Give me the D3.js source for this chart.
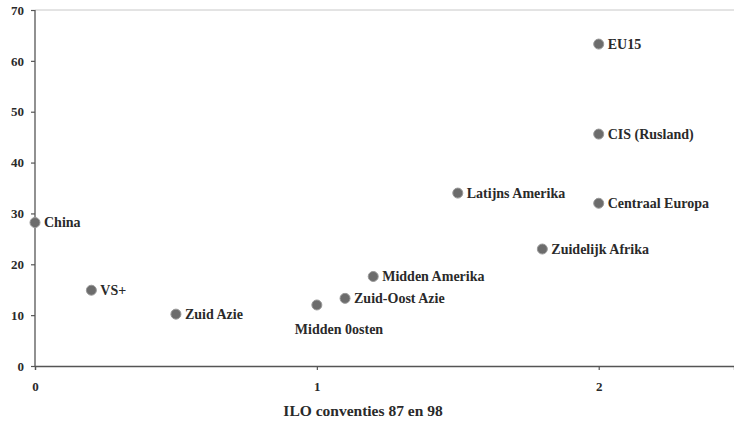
<!DOCTYPE html>
<html>
<head>
<meta charset="utf-8">
<script src="https://cdn.jsdelivr.net/npm/d3@7"></script>
<style>
body { margin: 0; background: #fff; }
text { font-family: "Liberation Serif", "Times New Roman", serif; font-weight: bold; fill: #2a2a2a; }
</style>
</head>
<body>
<script>
const w = 734;
const h = 424;

// regio's en waarden
const regions = ["China", "VS+", "Zuid Azie", "Midden 0osten", "Zuid-Oost Azie", "Midden Amerika",
	"Latijns Amerika", "Zuidelijk Afrika", "Centraal Europa", "CIS (Rusland)", "EU15"];
const iloValues = [0, 0.2, 0.5, 1, 1.1, 1.2, 1.5, 1.8, 2, 2, 2];
const yValues = [28.2, 14.9, 10.2, 12, 13.3, 17.6, 34, 23, 32, 45.6, 63.3];
const xTicks = [0, 1, 2];
const yTicks = [0, 10, 20, 30, 40, 50, 60, 70];

const dataset = regions.map((r, i) => ({name: r, x: iloValues[i], y: yValues[i]}));

const xScale = d3.scaleLinear()
	.domain([0, 2.48])
	.range([35, 734]);

const yScale = d3.scaleLinear()
	.domain([0, 70])
	.range([366, 10]);

const svg = d3.select("body")
	.append("svg")
	.attr("width", w)
	.attr("height", h);

// bovenste lijn bij 70
svg.append("line")
	.attr("x1", xScale(0))
	.attr("x2", xScale(2.48))
	.attr("y1", yScale(70))
	.attr("y2", yScale(70))
	.attr("stroke", "#c8c8c8")
	.attr("stroke-width", 1);

const xAxis = d3.axisBottom(xScale).tickValues(xTicks).tickSize(4).tickPadding(12).tickFormat(d3.format("d"));
const yAxis = d3.axisLeft(yScale).tickValues(yTicks).tickSize(4).tickPadding(7);

const gx = svg.append("g")
	.attr("transform", "translate(0," + yScale(0) + ")")
	.call(xAxis);

const gy = svg.append("g")
	.attr("transform", "translate(" + xScale(0) + ",0)")
	.call(yAxis);

[gx, gy].forEach((g) => {
	g.select(".domain").attr("stroke", "#555").attr("stroke-width", 1.3);
	g.selectAll(".tick line").attr("stroke", "#555").attr("stroke-width", 1.2);
	g.selectAll(".tick text").attr("font-size", 13).attr("font-family", "Liberation Serif").attr("font-weight", "bold").attr("fill", "#2a2a2a");
});
gy.select(".domain").attr("d", "M0," + yScale(70) + "V" + yScale(0));

svg.selectAll("circle")
	.data(dataset)
	.enter()
	.append("circle")
	.attr("cx", (d) => xScale(d.x))
	.attr("cy", (d) => yScale(d.y))
	.attr("r", 5)
	.attr("fill", "#6c6c6c")
	.attr("stroke", "#999")
	.attr("stroke-width", 1);

svg.selectAll(".label")
	.data(dataset)
	.enter()
	.append("text")
	.attr("class", "label")
	.attr("x", (d) => d.name == "Midden 0osten" ? xScale(d.x) - 22 : xScale(d.x) + 9)
	.attr("y", (d) => d.name == "Midden 0osten" ? yScale(d.y) + 24 : yScale(d.y))
	.attr("dy", "0.35em")
	.attr("font-size", 14)
	.text((d) => d.name);

svg.append("text")
	.attr("x", 363)
	.attr("y", 416)
	.attr("text-anchor", "middle")
	.attr("font-size", 15.5)
	.text("ILO conventies 87 en 98");
</script>
</body>
</html>
